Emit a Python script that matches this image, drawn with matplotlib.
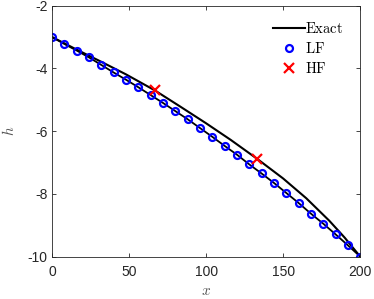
import numpy as np
import matplotlib
matplotlib.use("Agg")
import matplotlib.pyplot as plt

plt.rcParams['font.family'] = ['Liberation Sans', 'DejaVu Sans']
plt.rcParams['mathtext.fontset'] = 'cm'
plt.rcParams['axes.unicode_minus'] = False

# ---- data ----
x_lf = np.arange(0, 201, 8)
h_lf = [-3.00, -3.22, -3.43, -3.65, -3.89, -4.13, -4.36, -4.60, -4.85,
        -5.10, -5.36, -5.62, -5.90, -6.18, -6.47, -6.75, -7.06, -7.35,
        -7.65, -7.97, -8.29, -8.63, -8.95, -9.29, -9.64, -10.00]

x_exact = [0, 16, 32, 48, 66.7, 83, 100, 116, 133.3, 150, 165, 180, 190, 200]
h_exact = [-3.00, -3.40, -3.79, -4.19, -4.70, -5.21, -5.75, -6.28, -6.89,
           -7.51, -8.14, -8.86, -9.40, -10.00]

x_hf = [66.7, 133.3]
h_hf = [-4.69, -6.88]

xticks = [0, 50, 100, 150, 200]
yticks = [-10, -8, -6, -4, -2]

# ---- figure ----
fig = plt.figure(figsize=(3.74, 2.99), dpi=100)
ax = fig.add_axes([0.139, 0.142, 0.824, 0.839])

gray = '#262626'
ax.plot(x_exact, h_exact, '-', color='k', lw=1.5, label=r'$\mathrm{Exact}$')
ax.plot(x_lf, h_lf, '-', color='k', lw=1.3)
ax.plot(x_lf, h_lf, 'o', color='b', mfc='none', ms=5, mew=1.6,
        label=r'$\mathrm{LF}$')
ax.plot(x_hf, h_hf, 'x', color='r', ms=7, mew=1.6, label=r'$\mathrm{HF}$')

ax.set_xlim(0, 200)
ax.set_ylim(-10, -2)
ax.set_xticks(xticks)
ax.set_yticks(yticks)
ax.tick_params(direction='in', length=3, width=0.6, top=True, right=True,
               labelsize=10, colors=gray)
ax.tick_params(axis='x', pad=6)
ax.tick_params(axis='y', pad=3)
for sp in ax.spines.values():
    sp.set_color(gray)
    sp.set_linewidth(0.6)

ax.set_xlabel(r'$x$', fontsize=11, color='#555555', labelpad=4)
ax.set_ylabel(r'$h$', fontsize=11, color='#555555', labelpad=8)

ax.legend(loc='upper right', bbox_to_anchor=(0.975, 0.975), frameon=False,
          fontsize=10.5, handlelength=2.2, handletextpad=0.05,
          labelspacing=0.35, borderaxespad=0.2)

fig.savefig('out.png', dpi=100)
